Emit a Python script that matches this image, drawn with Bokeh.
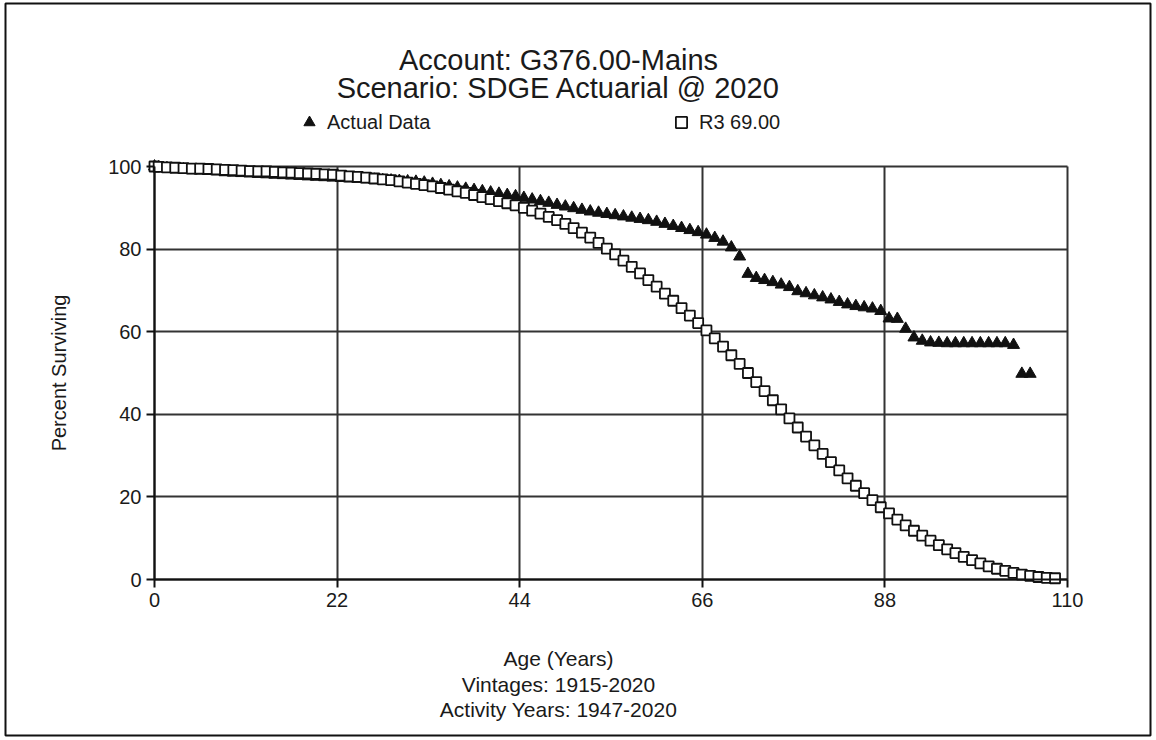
from bokeh.plotting import figure
from bokeh.models import Label, Legend, LegendItem, BoxAnnotation, Range1d, FixedTicker
from bokeh.embed import file_html
from bokeh.resources import INLINE

# ---------------- data ----------------
title_lines = ["Account: G376.00-Mains", "Scenario: SDGE Actuarial @ 2020"]
x_title_lines = ["Age (Years)", "Vintages: 1915-2020", "Activity Years: 1947-2020"]
y_title = "Percent Surviving"
series_names = ["Actual Data", "R3 69.00"]
x_ticks = [0, 22, 44, 66, 88, 110]
y_ticks = [0, 20, 40, 60, 80, 100]

actual_ages = [0] + [k + 0.5 for k in range(106)]
actual_pct = [
    100.0,
    99.8, 99.6, 99.4, 99.3, 99.1, 99.0, 98.9, 98.8, 98.6, 98.5,      # 0.5 - 9.5
    98.4, 98.3, 98.2, 98.1, 98.0, 97.9, 97.8, 97.7, 97.6, 97.5,      # 10.5 - 19.5
    97.4, 97.3, 97.2, 97.1, 97.0, 96.9, 96.8, 96.7, 96.6, 96.5,      # 20.5 - 29.5
    96.4, 96.3, 96.1, 95.8, 95.5, 95.2, 94.9, 94.6, 94.3, 94.0,      # 30.5 - 39.5
    93.7, 93.4, 93.1, 92.8, 92.4, 92.0, 91.6, 91.2, 90.7, 90.3,      # 40.5 - 49.5
    89.9, 89.5, 89.1, 88.8, 88.5, 88.2, 87.9, 87.6, 87.3, 87.0,      # 50.5 - 59.5
    86.6, 86.1, 85.6, 85.1, 84.6, 84.1, 83.5, 82.7, 81.8, 80.4,      # 60.5 - 69.5
    78.2, 74.0, 73.0, 72.5, 72.0, 71.4, 70.8, 69.8, 69.3, 68.8,      # 70.5 - 79.5
    68.3, 67.8, 67.2, 66.6, 66.2, 65.9, 65.6, 65.0, 63.2, 63.1,      # 80.5 - 89.5
    60.7, 58.6, 57.8, 57.4, 57.3, 57.2, 57.2, 57.2, 57.2, 57.2,      # 90.5 - 99.5
    57.2, 57.2, 57.2, 56.8, 49.8, 49.8,                              # 100.5 - 105.5
]

r3_ages = [0] + [k + 0.5 for k in range(109)]
r3_pct = [
    100.0,
    99.9, 99.8, 99.7, 99.6, 99.5, 99.5, 99.4, 99.3, 99.2, 99.1,      # 0.5 - 9.5
    99.0, 98.9, 98.8, 98.8, 98.7, 98.6, 98.5, 98.4, 98.3, 98.2,      # 10.5 - 19.5
    98.1, 98.0, 97.8, 97.6, 97.5, 97.3, 97.1, 96.9, 96.7, 96.4,      # 20.5 - 29.5
    96.1, 95.8, 95.5, 95.2, 94.8, 94.4, 94.0, 93.6, 93.1, 92.6,      # 30.5 - 39.5
    92.1, 91.6, 91.1, 90.6, 90.0, 89.3, 88.6, 87.8, 87.0, 86.1,      # 40.5 - 49.5
    85.1, 84.0, 82.8, 81.5, 80.1, 78.7, 77.2, 75.7, 74.1, 72.5,      # 50.5 - 59.5
    70.9, 69.2, 67.5, 65.7, 63.9, 62.1, 60.3, 58.4, 56.4, 54.3,      # 60.5 - 69.5
    52.2, 50.0, 47.8, 45.6, 43.4, 41.2, 39.0, 36.8, 34.6, 32.5,      # 70.5 - 79.5
    30.4, 28.4, 26.4, 24.5, 22.7, 20.9, 19.2, 17.5, 16.0, 14.5,      # 80.5 - 89.5
    13.1, 11.8, 10.6, 9.4, 8.3, 7.3, 6.4, 5.5, 4.7, 3.9,             # 90.5 - 99.5
    3.2, 2.6, 2.1, 1.6, 1.2, 0.9, 0.6, 0.4, 0.3,                     # 100.5 - 108.5
]

# ---------------- geometry (pixels of the picture) ----------------
W, H = 1156, 740
PX0, PX1 = 154, 1067          # x = 0 and x = 110
PY0, PY1 = 579, 166           # y = 0 and y = 100
sx = (PX1 - PX0) / (x_ticks[-1] - x_ticks[0])
sy = (PY0 - PY1) / (y_ticks[-1] - y_ticks[0])


def dx(px):
    return (px - PX0) / sx


def dy(py):
    return (PY0 - py) / sy


FONT = "Liberation Sans"
TXT = "#1a1a1a"
DARK = "#111111"
GRID = "#333333"

# frame covers the whole canvas; axes are pinned at the data origin
p = figure(
    width=W, height=H,
    x_range=Range1d(dx(0), dx(W)), y_range=Range1d(dy(H), dy(0)),
    output_backend="svg", toolbar_location=None, title=None,
    min_border_left=0, min_border_right=0, min_border_top=0, min_border_bottom=0,
    background_fill_color="white", border_fill_color="white",
)
p.outline_line_color = None

xt = FixedTicker(ticks=x_ticks)
yt = FixedTicker(ticks=y_ticks)
p.xaxis.ticker = xt
p.yaxis.ticker = yt
p.xaxis.fixed_location = 0
p.yaxis.fixed_location = 0
p.xaxis.bounds = (x_ticks[0], x_ticks[-1])
p.yaxis.bounds = (y_ticks[0], y_ticks[-1])
for ax in (p.xaxis[0], p.yaxis[0]):
    ax.major_tick_out = 8
    ax.major_tick_in = 0
    ax.minor_tick_out = 0
    ax.minor_tick_in = 0
    ax.axis_line_width = 2
    ax.axis_line_color = DARK
    ax.major_tick_line_width = 2
    ax.major_tick_line_color = DARK
    ax.major_label_text_font = FONT
    ax.major_label_text_font_size = "20px"
    ax.major_label_text_color = TXT
p.xaxis.major_label_standoff = 5
p.yaxis.major_label_standoff = 5

p.yaxis.axis_label = y_title
p.yaxis.axis_label_text_font = FONT
p.yaxis.axis_label_text_font_size = "20px"
p.yaxis.axis_label_text_font_style = "normal"
p.yaxis.axis_label_text_color = TXT
p.yaxis.axis_label_standoff = 35

p.xgrid.ticker = xt
p.ygrid.ticker = yt
p.xgrid.bounds = (x_ticks[0], x_ticks[-1])
p.xgrid.cross_bounds = (y_ticks[0], y_ticks[-1])
p.ygrid.bounds = (y_ticks[0], y_ticks[-1])
p.ygrid.cross_bounds = (x_ticks[0], x_ticks[-1])
p.grid.grid_line_color = GRID
p.grid.grid_line_width = 2

r_act = p.scatter(actual_ages, actual_pct, marker="triangle", size=12,
                  fill_color=DARK, line_color=DARK, line_width=1)
r_r3 = p.scatter(r3_ages, r3_pct, marker="square", size=10,
                 fill_color="white", line_color=DARK, line_width=1.8)

legend = Legend(
    items=[LegendItem(label=series_names[0], renderers=[r_act]),
           LegendItem(label=series_names[1], renderers=[r_r3])],
    orientation="horizontal", location=(295, H - 136),
    padding=0, margin=0, spacing=0,
    glyph_width=28, glyph_height=28, label_standoff=4, label_width=340,
    label_text_font=FONT, label_text_font_size="20px", label_text_color=TXT,
    border_line_color=None, background_fill_alpha=0,
)
p.add_layout(legend)

xc = dx(558)
for txt, py in zip(title_lines, [59, 87]):
    p.add_layout(Label(x=xc, y=dy(py), text=txt, text_align="center",
                       text_baseline="alphabetic", text_font=FONT, text_font_size="29px",
                       text_color=TXT))
for txt, py in zip(x_title_lines, [658, 684, 709]):
    p.add_layout(Label(x=xc, y=dy(py), text=txt, text_align="center",
                       text_baseline="alphabetic", text_font=FONT, text_font_size="21px",
                       text_color=TXT))

# outer frame around the whole picture
p.add_layout(BoxAnnotation(left=dx(5), right=dx(1150), top=dy(3), bottom=dy(735),
                           fill_alpha=0, line_color=DARK, line_alpha=1.0, line_width=2))

open("out.html", "w").write(file_html(p, INLINE))
